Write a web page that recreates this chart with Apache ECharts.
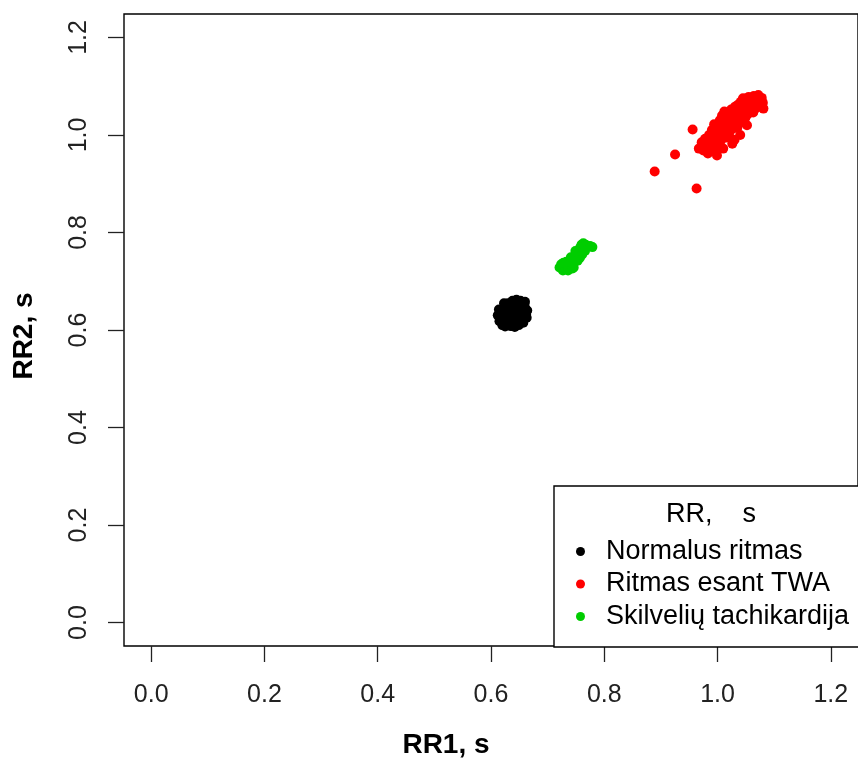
<!DOCTYPE html>
<html>
<head>
<meta charset="utf-8">
<title>RR1 / RR2</title>
<script src="https://cdn.jsdelivr.net/npm/echarts@6/dist/echarts.min.js"></script>
<style>
  html, body { margin: 0; padding: 0; background: #fff; }
  #chart { width: 858px; height: 762px; }
</style>
</head>
<body>
<div id="chart"></div>
<script>
// Series names (legend order)
const seriesNames = ['Normalus ritmas', 'Ritmas esant TWA', 'Skilvelių tachikardija'];
const seriesColors = ['#000000', '#ff0000', '#00cd00'];

// Tick positions shared by both axes
const tickValues = [0, 0.2, 0.4, 0.6, 0.8, 1.0, 1.2];

// [RR1, RR2] pairs, seconds
const normalusRitmas = [
  [0.612,0.630],[0.615,0.618],[0.618,0.640],[0.620,0.610],[0.622,0.626],[0.624,0.648],
  [0.626,0.635],[0.628,0.615],[0.630,0.655],[0.631,0.622],[0.633,0.642],[0.635,0.608],
  [0.636,0.630],[0.638,0.660],[0.640,0.618],[0.641,0.648],[0.643,0.636],[0.645,0.625],
  [0.646,0.612],[0.648,0.655],[0.650,0.640],[0.651,0.628],[0.653,0.618],[0.655,0.650],
  [0.656,0.635],[0.658,0.622],[0.660,0.645],[0.662,0.632],[0.664,0.640],[0.660,0.658],
  [0.652,0.660],[0.645,0.662],[0.634,0.652],[0.627,0.620],[0.619,0.634],[0.614,0.642],
  [0.625,0.607],[0.642,0.606],[0.657,0.615],[0.663,0.625],[0.639,0.640],[0.647,0.645],
  [0.632,0.632],[0.654,0.630],[0.623,0.655],[0.617,0.625],[0.637,0.622],[0.649,0.610],
  [0.629,0.646],[0.659,0.652]
];

const ritmasTWA = [
  [0.967,0.972],[0.972,0.985],[0.975,0.968],[0.978,0.992],[0.980,0.978],[0.983,0.962],
  [0.985,1.000],[0.986,0.985],[0.988,0.970],[0.990,1.010],[0.991,0.992],[0.993,0.978],
  [0.994,1.022],[0.996,1.003],[0.997,0.965],[0.998,0.988],[1.000,1.015],[1.001,0.998],
  [1.003,0.980],[1.004,1.030],[1.005,1.008],[1.007,0.990],[1.008,1.040],[1.009,1.020],
  [1.010,1.000],[1.012,1.048],[1.013,1.028],[1.014,1.010],[1.016,0.995],[1.017,1.035],
  [1.018,1.018],[1.020,1.045],[1.021,1.005],[1.022,1.025],[1.024,1.052],[1.025,1.035],
  [1.026,1.012],[1.028,1.042],[1.029,1.022],[1.030,0.990],[1.031,1.058],[1.032,1.032],
  [1.034,1.048],[1.035,1.015],[1.036,1.062],[1.037,1.038],[1.039,1.025],[1.040,1.055],
  [1.041,1.068],[1.043,1.042],[1.044,1.030],[1.045,1.075],[1.046,1.060],[1.048,1.048],
  [1.049,1.035],[1.050,1.070],[1.052,1.056],[1.053,1.042],[1.055,1.078],[1.056,1.064],
  [1.058,1.050],[1.060,1.072],[1.061,1.060],[1.063,1.046],[1.064,1.080],[1.066,1.066],
  [1.068,1.055],[1.069,1.074],[1.071,1.062],[1.072,1.082],[1.074,1.070],[1.076,1.060],
  [1.078,1.076],[1.080,1.066],[1.081,1.054],[1.026,0.982],[1.010,0.972],[0.999,0.958],
  [1.040,1.000],[1.052,1.020],
  [0.956,1.011],[0.925,0.960],[0.889,0.925],[0.963,0.890]
];

const skilveliuTachikardija = [
  [0.721,0.728],[0.724,0.735],[0.727,0.722],[0.730,0.730],[0.732,0.725],[0.735,0.735],
  [0.736,0.722],[0.738,0.728],[0.740,0.740],[0.742,0.732],[0.744,0.745],[0.745,0.736],
  [0.747,0.750],[0.748,0.742],[0.750,0.755],[0.751,0.745],[0.752,0.760],[0.754,0.750],
  [0.755,0.765],[0.756,0.755],[0.758,0.770],[0.759,0.760],[0.760,0.775],[0.762,0.765],
  [0.763,0.778],[0.765,0.770],[0.767,0.775],[0.770,0.772],[0.775,0.772],[0.779,0.770],
  [0.746,0.728],[0.741,0.749],[0.733,0.740],[0.757,0.748],[0.749,0.762],[0.761,0.755],
  [0.728,0.738],[0.744,0.726],[0.753,0.742],[0.766,0.762]
];

const seriesData = [normalusRitmas, ritmasTWA, skilveliuTachikardija];

const FONT = '"Liberation Sans", Arial, sans-serif';
const PAD = 0.048; // 4% padding beyond 0..1.2

const chart = echarts.init(document.getElementById('chart'), null, { renderer: 'canvas' });

const axisCommon = {
  type: 'value',
  min: -PAD,
  max: 1.2 + PAD,
  axisLine: { show: false, onZero: false },
  splitLine: { show: false },
  axisTick: {
    show: true,
    inside: false,
    length: 16,
    customValues: tickValues,
    lineStyle: { color: '#222', width: 1.3 }
  },
  axisLabel: {
    customValues: tickValues,
    fontFamily: FONT,
    fontSize: 25,
    color: '#222',
    formatter: v => v.toFixed(1)
  }
};

chart.setOption({
  animation: false,
  backgroundColor: '#fff',
  grid: {
    left: 124, top: 14, right: -10, bottom: 116,
    show: true,
    borderColor: '#000',
    borderWidth: 1.4,
    backgroundColor: 'transparent'
  },
  xAxis: Object.assign({}, axisCommon, {
    axisLabel: Object.assign({}, axisCommon.axisLabel, { margin: 37 })
  }),
  yAxis: Object.assign({}, axisCommon, {
    axisLabel: Object.assign({}, axisCommon.axisLabel, { margin: 32, rotate: 90 })
  }),
  legend: {
    orient: 'vertical',
    left: 576,
    top: 538,
    z: 10,
    icon: 'circle',
    itemWidth: 9,
    itemHeight: 9,
    itemGap: 5.5,
    padding: 0,
    data: seriesNames,
    textStyle: {
      fontFamily: FONT,
      fontSize: 27,
      lineHeight: 27,
      color: '#000',
      padding: [0, 0, 0, 16]
    }
  },
  graphic: [
    {
      type: 'rect',
      shape: { x: 554, y: 486, width: 400, height: 161 },
      style: { fill: '#fff', stroke: '#000', lineWidth: 1.4 },
      z: 5
    },
    {
      type: 'text',
      x: 666, y: 515,
      style: {
        text: 'RR,    s',
        font: '27px ' + FONT,
        fill: '#000',
        textVerticalAlign: 'middle'
      },
      z: 6
    },
    {
      type: 'text',
      x: 446, y: 745,
      style: {
        text: 'RR1, s',
        font: 'bold 28px ' + FONT,
        fill: '#000',
        textAlign: 'center',
        textVerticalAlign: 'middle'
      }
    },
    {
      type: 'text',
      x: 24, y: 336,
      rotation: Math.PI / 2,
      style: {
        text: 'RR2, s',
        font: 'bold 28px ' + FONT,
        fill: '#000',
        textAlign: 'center',
        textVerticalAlign: 'middle'
      }
    }
  ],
  series: seriesNames.map((name, i) => ({
    name: name,
    type: 'scatter',
    data: seriesData[i],
    symbol: 'circle',
    symbolSize: 10,
    itemStyle: { color: seriesColors[i], opacity: 1 },
    z: 2
  }))
});
</script>
</body>
</html>
